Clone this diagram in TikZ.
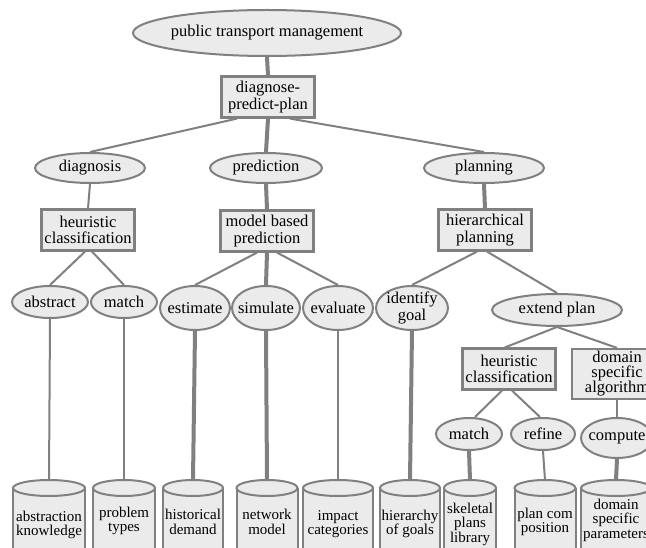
\documentclass[tikz,border=0pt]{standalone}
\usepackage{fontspec}
\setmainfont{Liberation Serif}
\newfontfamily\diagserif{Liberation Serif}
\usetikzlibrary{shapes.geometric}
\definecolor{edgegray}{HTML}{808080}
\definecolor{fillgray}{HTML}{EBEBEB}
\begin{document}
\begin{tikzpicture}[x=1pt,y=-1pt,
  every node/.style={font=\diagserif\fontsize{16.5}{16.5}\selectfont, text=black, align=center},
  oval/.style={ellipse, draw=edgegray, fill=fillgray, line width=2pt, inner sep=-6pt},
  box/.style={rectangle, draw=edgegray, fill=fillgray, line width=2.2pt, inner sep=0pt, minimum width=93pt, minimum height=41pt},
  dbdraw/.style={draw=edgegray, fill=fillgray, line width=2pt},
  dbtext/.style={inner sep=0pt, font=\diagserif\fontsize{15}{14.5}\selectfont},
  thinedge/.style={draw=edgegray, line width=2pt},
  thickedge/.style={draw=edgegray, line width=4pt},
]
\useasboundingbox (0,0) rectangle (646,548);
\clip (0,0) rectangle (646,548);
\fill[white] (0,0) rectangle (646,548);
% ellipses and boxes
\node[oval, minimum width=268pt, minimum height=46pt] (ptm) at (267,33) {public transport management};
\node[box] (dpp) at (268,97) {diagnose-\\predict-plan};
\node[oval, minimum width=110pt, minimum height=30pt] (diag) at (90,168) {diagnosis};
\node[oval, minimum width=112pt, minimum height=30pt] (pred) at (266,168) {prediction};
\node[oval, minimum width=120pt, minimum height=30pt] (plan) at (484,168) {planning};
\node[box] (hcl) at (88,230) {heuristic\\classification};
\node[box] (mbp) at (267,231) {model based\\prediction};
\node[box] (hp) at (485,230) {hierarchical\\planning};
\node[oval, minimum width=76pt, minimum height=32pt] (abs) at (50,302) {abstract};
\node[oval, minimum width=66pt, minimum height=32pt] (mtl) at (124,302) {match};
\node[oval, minimum width=70pt, minimum height=44pt] (est) at (195,308) {estimate};
\node[oval, minimum width=68pt, minimum height=44pt] (sim) at (266,308) {simulate};
\node[oval, minimum width=70pt, minimum height=44pt] (eva) at (338,308) {evaluate};
\node[oval, minimum width=72pt, minimum height=44pt] (idg) at (412,308) {identify\\goal};
\node[oval, minimum width=130pt, minimum height=32pt] (ext) at (557,310) {extend plan};
\node[box] (hcr) at (509,369) {heuristic\\classification};
\node[box, minimum width=90pt, minimum height=50pt, font=\diagserif\fontsize{16.5}{15}\selectfont] (dsa) at (617,374) {domain\\specific\\algorithm};
\node[oval, minimum width=66pt, minimum height=32pt] (mtr) at (469,434) {match};
\node[oval, minimum width=64pt, minimum height=32pt] (ref) at (543,434) {refine};
\node[oval, minimum width=72pt, minimum height=40pt] (cmp) at (617,438) {compute};
% cylinders
\foreach \n/\x/\w in {c1/49/72, c2/124/62, c3/193/60, c4/267/61, c5/338/70, c6/410/60, c7/470/52, c8/545/61, c9/616/70} {
  \node[inner sep=0pt, minimum width=\w pt, minimum height=90pt, anchor=north] (\n) at (\x,480) {};
  \filldraw[dbdraw] ({\x-\w/2},488) -- ({\x-\w/2},575) -- ({\x+\w/2},575) -- ({\x+\w/2},488);
  \filldraw[dbdraw] (\x,488) ellipse [x radius={\w/2}, y radius=8];
}
\node[dbtext] (t1) at (49,525) {abstraction\\knowledge};
\node[dbtext] (t2) at (124,521) {problem\\types};
\node[dbtext] (t3) at (193,522) {historical\\demand};
\node[dbtext] (t4) at (267,522) {network\\model};
\node[dbtext] (t5) at (338,524) {impact\\categories};
\node[dbtext] (t6) at (410,524) {hierarchy\\of goals};
\node[dbtext] (t7) at (470,524) {skeletal\\plans\\library};
\node[dbtext] (t8) at (545,522) {plan com\\position};
\node[dbtext] (t9) at (616,520) {domain\\specific\\parameters};
% edges
\draw[thickedge] (ptm.south) -- (dpp.north);
\draw[thinedge] ([xshift=-31pt]dpp.south) -- (diag.north);
\draw[thickedge] (dpp.south) -- (pred.north);
\draw[thinedge] ([xshift=22pt]dpp.south) -- (plan.north);
\draw[thinedge] (diag.south) -- (hcl.north);
\draw[thickedge] (pred.south) -- (mbp.north);
\draw[thickedge] (plan.south) -- (hp.north);
\draw[thinedge] ([xshift=-3pt]hcl.south) -- (abs.north);
\draw[thinedge] ([xshift=4pt]hcl.south) -- (mtl.north);
\draw[thinedge] ([xshift=-10pt]mbp.south) -- (est.north);
\draw[thickedge] (mbp.south) -- (sim.north);
\draw[thinedge] ([xshift=10pt]mbp.south) -- (eva.north);
\draw[thinedge] ([xshift=-8pt]hp.south) -- (idg.north);
\draw[thinedge] ([xshift=2pt]hp.south) -- (ext.north);
\draw[thinedge] (abs.south) -- (c1.north);
\draw[thinedge] (mtl.south) -- (c2.north);
\draw[thickedge] (est.south) -- (c3.north);
\draw[thickedge] (sim.south) -- (c4.north);
\draw[thinedge] (eva.south) -- (c5.north);
\draw[thickedge] (idg.south) -- (c6.north);
\draw[thinedge] (ext.south) -- ([xshift=-4pt]hcr.north);
\draw[thinedge] (ext.south) -- (dsa.north);
\draw[thinedge] ([xshift=-7pt]hcr.south) -- ([xshift=6pt]mtr.north);
\draw[thinedge] ([xshift=3pt]hcr.south) -- ([xshift=-3pt]ref.north);
\draw[thinedge] (dsa.south) -- (cmp.north);
\draw[thickedge] (mtr.south) -- (c7.north);
\draw[thinedge] (ref.south) -- (c8.north);
\draw[thickedge] (cmp.south) -- (c9.north);
\end{tikzpicture}
\end{document}
